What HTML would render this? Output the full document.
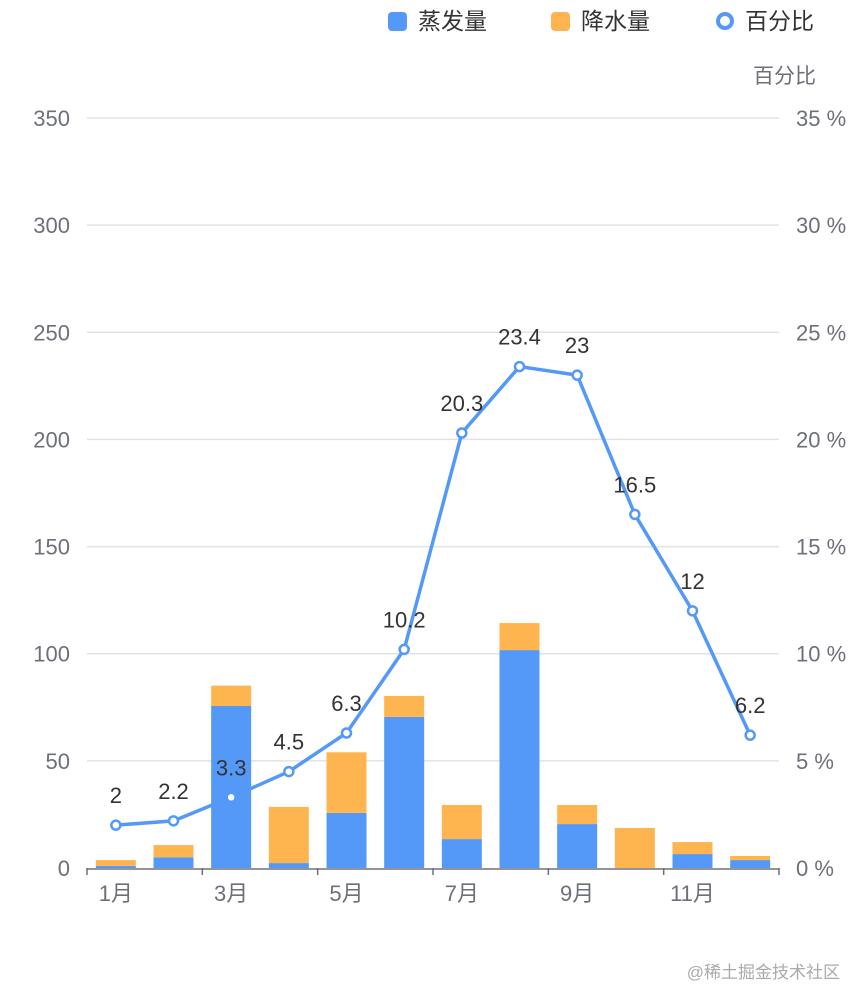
<!DOCTYPE html>
<html><head><meta charset="utf-8"><style>
html,body{margin:0;padding:0;background:#fff;width:866px;height:1008px;overflow:hidden}
svg{display:block;font-family:"Liberation Sans","Noto Sans CJK SC",sans-serif}
</style></head><body>
<svg id="chart" width="866" height="1008">
<g>
<g><rect x="388" y="12" width="19" height="19" rx="4" fill="#5599f8"/><text x="418" y="29" font-size="23" fill="#333">蒸发量</text></g>
<g><rect x="551" y="12" width="19" height="19" rx="4" fill="#ffb54f"/><text x="581" y="29" font-size="23" fill="#333">降水量</text></g>
<g><circle cx="725" cy="21" r="7" fill="#fff" stroke="#5599f8" stroke-width="4"/><text x="745" y="29" font-size="23" fill="#333">百分比</text></g>
</g>
<text x="816" y="83" font-size="21" fill="#6e7079" text-anchor="end">百分比</text>
<text x="840" y="978" font-size="17" fill="#aaa" text-anchor="end">@稀土掘金技术社区</text>
<g id="grid"></g><g id="bars"></g><g id="axes"></g><g id="line"></g>
</svg>
<script>
const months=['1月','2月','3月','4月','5月','6月','7月','8月','9月','10月','11月','12月'];
const evaporation=[1,5,75.6,2.3,25.7,70.5,13.5,101.7,20.5,0,6.5,3.7];
const precipitation=[2.7,5.7,9.5,26.2,28.3,9.8,15.9,12.6,8.9,18.7,5.6,1.9];
const percent=[2,2.2,3.3,4.5,6.3,10.2,20.3,23.4,23,16.5,12,6.2];
const leftTicks=[0,50,100,150,200,250,300,350];
const rightTicks=[0,5,10,15,20,25,30,35];
const NS='http://www.w3.org/2000/svg';
const X0=87,X1=779,Y0=868,Y1=118;
const bw=(X1-X0)/months.length;
const xc=i=>X0+bw*(i+0.5);
const yL=v=>Y0-(v/350)*(Y0-Y1);
const yR=v=>Y0-(v/35)*(Y0-Y1);
function mk(tag,attrs,parent,txt){const e=document.createElementNS(NS,tag);for(const k in attrs)e.setAttribute(k,attrs[k]);if(txt!==undefined)e.textContent=txt;document.getElementById(parent).appendChild(e);return e;}
leftTicks.forEach((t,i)=>{
 if(t>0){const g=mk('line',{x1:X0,x2:X1,y1:yL(t),y2:yL(t),stroke:'#e0e3e8','stroke-width':1.5},'grid');
 
 }
 const l=mk('text',{x:70,y:yL(t)+8,'font-size':22,fill:'#6e7079','text-anchor':'end'},'axes',String(t));
 
 
 const r=mk('text',{x:796,y:yR(rightTicks[i])+8,'font-size':22,fill:'#6e7079'},'axes',rightTicks[i]+' %');
 
 
});
const ax=mk('line',{x1:X0,x2:X1,y1:Y0+1,y2:Y0+1,stroke:'#6e7079','stroke-width':1.5},'axes');


months.forEach((m,i)=>{
 const w=40,x=xc(i)-w/2;
 const b=mk('rect',{x:x,y:yL(evaporation[i]),width:w,height:Y0-yL(evaporation[i]),fill:'#5599f8'},'bars');
 
 
 const top=evaporation[i]+precipitation[i];
 const o=mk('rect',{x:x,y:yL(top),width:w,height:yL(evaporation[i])-yL(top),fill:'#ffb54f'},'bars');
 
 
 if(i%2===0){
  const tk=mk('line',{x1:X0+bw*i,x2:X0+bw*i,y1:Y0,y2:Y0+7,stroke:'#6e7079','stroke-width':1.5},'axes');
  
  
  const t=mk('text',{x:xc(i),y:Y0+33,'font-size':22,fill:'#6e7079','text-anchor':'middle'},'axes',m);
  
  
 }
});
const tkE=mk('line',{x1:X1,x2:X1,y1:Y0,y2:Y0+7,stroke:'#6e7079','stroke-width':1.5},'axes');


const pl=mk('polyline',{points:percent.map((v,i)=>xc(i)+','+yR(v)).join(' '),fill:'none',stroke:'#5599f8','stroke-width':3.5},'line');


percent.forEach((v,i)=>{
 const c=mk('circle',{cx:xc(i),cy:yR(v),r:4.5,fill:'#fff',stroke:'#5599f8','stroke-width':2.5},'line');
 
 
 const t=mk('text',{x:xc(i),y:yR(v)-22,'font-size':22,fill:'#333','text-anchor':'middle'},'line',String(v));
 
 
});
</script>
</body></html>
